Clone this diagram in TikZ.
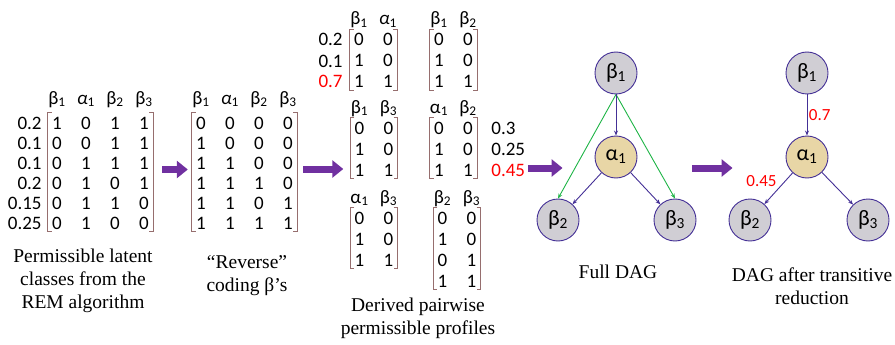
\documentclass[tikz,border=0pt]{standalone}
\usepackage{fontspec}
\setmainfont{Liberation Serif}
\newfontfamily\cali{Carlito}
\usetikzlibrary{arrows.meta, positioning, matrix, calc}

\definecolor{arrowpurple}{RGB}{112,48,160}
\definecolor{bracketbrown}{RGB}{150,110,110}
\definecolor{nodeblue}{RGB}{68,48,150}
\definecolor{latentgray}{RGB}{208,206,212}
\definecolor{attrtan}{RGB}{232,214,166}
\definecolor{transgreen}{RGB}{30,180,70}

\newcommand{\betasub}[1]{β\textsubscript{#1}}
\newcommand{\alphasub}[1]{α\textsubscript{#1}}
\newcommand{\alphaslant}[1]{\textit{α}\textsubscript{#1}}

% square brackets round the body rows of a matrix
\newcommand{\matbrackets}[3]{%
  \draw[brk] ([xshift=4pt]#1-2-1.north west) -- (#1-2-1.north west) -- (#1-#2-1.south west) -- ([xshift=4pt]#1-#2-1.south west);
  \draw[brk] ([xshift=-4pt]#1-2-#3.north east) -- (#1-2-#3.north east) -- (#1-#2-#3.south east) -- ([xshift=-4pt]#1-#2-#3.south east);
}

\begin{document}
\begin{tikzpicture}[
    x=1pt, y=-1pt,
    cell/.style={
        font=\cali\fontsize{19}{20}\selectfont,
        minimum width=18pt, inner sep=0pt, text height=16pt, text depth=2pt
    },
    mat/.style={matrix of nodes, inner sep=0pt, column sep=11pt, row sep=2pt, nodes={cell}},
    smallmat/.style={mat, row sep=3pt},
    wt/.style={cell, minimum width=0pt},
    brk/.style={draw=bracketbrown, line width=1.1pt},
    bigarrow/.style={draw=arrowpurple, line width=7pt, -{Triangle[length=11pt, width=17pt]}},
    dagnode/.style={
        circle, draw=nodeblue, line width=0.9pt, minimum size=42pt, inner sep=0pt,
        font=\cali\fontsize{22}{24}\selectfont
    },
    latentnode/.style={dagnode, fill=latentgray},
    attrnode/.style={dagnode, fill=attrtan},
    >={Stealth[length=5pt, width=4pt]},
    dagedge/.style={->, draw=nodeblue, line width=0.9pt},
    transedge/.style={->, draw=transgreen, line width=0.9pt},
    lbl/.style={font=\cali\fontsize{17}{19}\selectfont, text=red, inner sep=1.5pt},
    caption/.style={align=center, font=\fontsize{19.5}{23}\selectfont}
]
\useasboundingbox (0,0) rectangle (895,345);

% latent classes
\matrix[mat] (latent) at (100.5,159.5) {
  \betasub{1} & \alphaslant{1} & \betasub{2} & \betasub{3} \\[5pt]
  1 & 0 & 1 & 1 \\
  0 & 0 & 1 & 1 \\
  0 & 1 & 1 & 1 \\
  0 & 1 & 0 & 1 \\
  0 & 1 & 1 & 0 \\
  0 & 1 & 0 & 0 \\
};
\matbrackets{latent}{7}{4}
\node[wt, left=6pt of latent-2-1] (wl1) {0.2};
\node[wt, left=6pt of latent-3-1] (wl2) {0.1};
\node[wt, left=6pt of latent-4-1] (wl3) {0.1};
\node[wt, left=6pt of latent-5-1] (wl4) {0.2};
\node[wt, left=6pt of latent-6-1] (wl5) {0.15};
\node[wt, left=6pt of latent-7-1] (wl6) {0.25};

% reverse coding
\matrix[mat] (reverse) at (244.5,159.5) {
  \betasub{1} & \alphaslant{1} & \betasub{2} & \betasub{3} \\[5pt]
  0 & 0 & 0 & 0 \\
  1 & 0 & 0 & 0 \\
  1 & 1 & 0 & 0 \\
  1 & 1 & 1 & 0 \\
  1 & 1 & 0 & 1 \\
  1 & 1 & 1 & 1 \\
};
\matbrackets{reverse}{7}{4}

% pairwise profiles
\matrix[smallmat] (b1a1) at (373.5,49.5) {
  \betasub{1} & \alphaslant{1} \\
  0 & 0 \\
  1 & 0 \\
  1 & 1 \\
};
\matbrackets{b1a1}{4}{2}
\node[wt, left=7pt of b1a1-2-1] (wp1) {0.2};
\node[wt, left=7pt of b1a1-3-1] (wp2) {0.1};
\node[wt, left=7pt of b1a1-4-1, text=red] (wp3) {0.7};

\matrix[smallmat] (b1b2) at (453.5,49.5) {
  \betasub{1} & \betasub{2} \\
  0 & 0 \\
  1 & 0 \\
  1 & 1 \\
};
\matbrackets{b1b2}{4}{2}

\matrix[smallmat] (b1b3) at (374,137.5) {
  \betasub{1} & \betasub{3} \\
  0 & 0 \\
  1 & 0 \\
  1 & 1 \\
};
\matbrackets{b1b3}{4}{2}

\matrix[smallmat] (a1b2) at (453.5,137.5) {
  \alphasub{1} & \betasub{2} \\
  0 & 0 \\
  1 & 0 \\
  1 & 1 \\
};
\matbrackets{a1b2}{4}{2}
\node[wt, right=14pt of a1b2-2-2] (w03) {0.3};
\node[wt, right=14pt of a1b2-3-2] (w025) {0.25};
\node[wt, right=14pt of a1b2-4-2, text=red] (w045) {0.45};

\matrix[smallmat] (a1b3) at (374,227.5) {
  \alphasub{1} & \betasub{3} \\
  0 & 0 \\
  1 & 0 \\
  1 & 1 \\
};
\matbrackets{a1b3}{4}{2}

\matrix[smallmat] (b2b3) at (457,238) {
  \betasub{2} & \betasub{3} \\
  0 & 0 \\
  1 & 0 \\
  0 & 1 \\
  1 & 1 \\
};
\matbrackets{b2b3}{5}{2}

% full DAG
\node[latentnode] (b1full) at (616,73) {\betasub{1}};
\node[attrnode] (a1full) at (616,157) {\alphasub{1}};
\node[latentnode] (b2full) at (558,220) {\betasub{2}};
\node[latentnode] (b3full) at (675,220) {\betasub{3}};

\draw[transedge] (b1full.south) -- (b2full.north);
\draw[transedge] (b1full.south) -- (b3full.north);
\draw[dagedge] (b1full) -- (a1full);
\draw[dagedge] (a1full) -- (b2full);
\draw[dagedge] (a1full) -- (b3full);

% reduced DAG
\node[latentnode] (b1red) at (807,73) {\betasub{1}};
\node[attrnode] (a1red) at (807,157) {\alphasub{1}};
\node[latentnode] (b2red) at (750,220) {\betasub{2}};
\node[latentnode] (b3red) at (868,220) {\betasub{3}};

\draw[dagedge] (b1red) -- node[lbl, right] {0.7} (a1red);
\draw[dagedge] (a1red) -- node[lbl, above left] {0.45} (b2red);
\draw[dagedge] (a1red) -- (b3red);

% block arrows
\draw[bigarrow] ($(latent.east)+(9,10)$) -- ($(reverse.west)+(-4,10)$);
\draw[bigarrow] ($(reverse.east |- b1b3-4-1)+(6,0)$) -- ($(b1b3-4-1.west)+(-7,0)$);
\draw[bigarrow] ($(w045.east)+(3,-1)$) -- ($(a1full.west |- w045)+(-32,-1)$);
\draw[bigarrow] ($(b3full.east |- w045)+(-4,-1)$) -- ($(a1red.west |- w045)+(-53,-1)$);

% captions
\node[caption] (caplatent) at (83,281) {Permissible latent\\classes from the\\REM algorithm};
\node[caption] (capreverse) at (247,276) {“Reverse”\\coding β’s};
\node[caption] (cappairs) at (418,318) {Derived pairwise\\permissible profiles};
\node[caption] (capfull) at (618,272) {Full DAG};
\node[caption] (capreduced) at (812,286) {DAG after transitive\\reduction};

\end{tikzpicture}
\end{document}
